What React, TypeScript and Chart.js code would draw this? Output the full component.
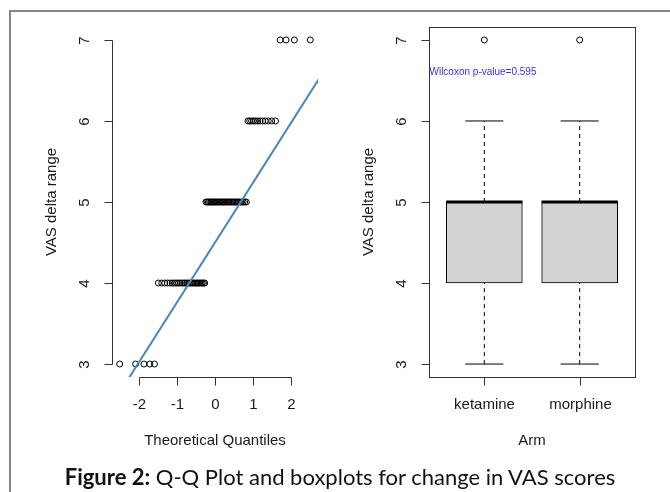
import React, { useEffect, useRef } from 'react';
import { Chart, registerables } from 'chart.js';

Chart.register(...registerables);

// ---------- data ----------
const vasLevels = [3, 4, 5, 6, 7];
const vasCounts = [5, 27, 32, 12, 4];
const qqXTicks = [-2, -1, 0, 1, 2];
const yTicks = [3, 4, 5, 6, 7];
const arms = ['ketamine', 'morphine'];
const armPos = [1, 2];
const whiskerLo = [3, 3];
const boxQ1 = [4, 4];
const boxMedian = [5, 5];
const boxQ3 = [5, 5];
const whiskerHi = [6, 6];
const armOutliers = [[7], [7]];
const wilcoxonP = '0.595';

// ---------- helpers (Q-Q transform, as qqnorm/qqline do) ----------
function qnorm(p: number): number {
  const a = [-3.969683028665376e1, 2.209460984245205e2, -2.759285104469687e2, 1.38357751867269e2, -3.066479806614716e1, 2.506628277459239];
  const b = [-5.447609879822406e1, 1.615858368580409e2, -1.556989798598866e2, 6.680131188771972e1, -1.328068155288572e1];
  const c = [-7.784894002430293e-3, -3.223964580411365e-1, -2.400758277161838, -2.549732539343734, 4.374664141464968, 2.938163982698783];
  const d = [7.784695709041462e-3, 3.224671290700398e-1, 2.445134137142996, 3.754408661907416];
  const pl = 0.02425;
  if (p < pl) {
    const q = Math.sqrt(-2 * Math.log(p));
    return (((((c[0] * q + c[1]) * q + c[2]) * q + c[3]) * q + c[4]) * q + c[5]) / ((((d[0] * q + d[1]) * q + d[2]) * q + d[3]) * q + 1);
  }
  if (p > 1 - pl) {
    const q = Math.sqrt(-2 * Math.log(1 - p));
    return -(((((c[0] * q + c[1]) * q + c[2]) * q + c[3]) * q + c[4]) * q + c[5]) / ((((d[0] * q + d[1]) * q + d[2]) * q + d[3]) * q + 1);
  }
  const q = p - 0.5;
  const r = q * q;
  return ((((((a[0] * r + a[1]) * r + a[2]) * r + a[3]) * r + a[4]) * r + a[5]) * q) / (((((b[0] * r + b[1]) * r + b[2]) * r + b[3]) * r + b[4]) * r + 1);
}

const sample: number[] = [];
vasLevels.forEach((v, i) => {
  for (let k = 0; k < vasCounts[i]; k++) sample.push(v);
});
const n = sample.length;
const qqPoints = sample.map((v, i) => ({ x: qnorm((i + 1 - 0.5) / n), y: v }));

function quantile7(arr: number[], p: number) {
  const h = (arr.length - 1) * p;
  const lo = Math.floor(h);
  const hi = Math.ceil(h);
  return arr[lo] + (h - lo) * (arr[hi] - arr[lo]);
}
const yq1 = quantile7(sample, 0.25);
const yq3 = quantile7(sample, 0.75);
const xq1 = qnorm(0.25);
const xq3 = qnorm(0.75);
const qqSlope = (yq3 - yq1) / (xq3 - xq1);
const qqInt = yq1 - qqSlope * xq1;
const qqLine = [-4, 4].map((x) => ({ x, y: qqInt + qqSlope * x }));

// ---------- styling ----------
const AXIS = '#333';
const TEXT = '#1a1a1a';
const RFONT = '"Liberation Sans", Arial, sans-serif';

type AxisOpts = {
  frame: boolean;
  xTicks: number[];
  xLabels: string[];
  xTitle: string;
  yTitle: string;
  note?: { text: string; x: number; y: number };
};

function makeRAxes(o: AxisOpts) {
  return {
    id: 'rAxes',
    afterDraw(chart: any) {
      const { ctx, chartArea: ca, scales } = chart;
      const xs = scales.x;
      const ys = scales.y;
      ctx.save();
      ctx.strokeStyle = AXIS;
      ctx.lineWidth = 1;
      ctx.fillStyle = TEXT;
      ctx.font = `15px ${RFONT}`;
      const L = Math.round(ca.left) + 0.5;
      const B = Math.round(ca.bottom) + 0.5;
      if (o.frame) {
        ctx.strokeRect(L, Math.round(ca.top) + 0.5, Math.round(ca.right) - Math.round(ca.left), Math.round(ca.bottom) - Math.round(ca.top));
      }
      // y axis
      ctx.beginPath();
      const yPx = yTicks.map((t) => Math.round(ys.getPixelForValue(t)) + 0.5);
      ctx.moveTo(L, yPx[0]);
      ctx.lineTo(L, yPx[yPx.length - 1]);
      yPx.forEach((py) => {
        ctx.moveTo(L, py);
        ctx.lineTo(L - 8, py);
      });
      // x axis
      const xPx = o.xTicks.map((t) => Math.round(xs.getPixelForValue(t)) + 0.5);
      ctx.moveTo(xPx[0], B);
      ctx.lineTo(xPx[xPx.length - 1], B);
      xPx.forEach((px) => {
        ctx.moveTo(px, B);
        ctx.lineTo(px, B + 8);
      });
      ctx.stroke();
      // y tick labels (rotated)
      ctx.textAlign = 'center';
      ctx.textBaseline = 'middle';
      yTicks.forEach((t, i) => {
        ctx.save();
        ctx.translate(ca.left - 27, yPx[i]);
        ctx.rotate(-Math.PI / 2);
        ctx.fillText(String(t), 0, 0);
        ctx.restore();
      });
      // x tick labels
      o.xTicks.forEach((_t, i) => {
        ctx.fillText(o.xLabels[i], xPx[i], B + 27);
      });
      // titles
      ctx.fillText(o.xTitle, (ca.left + ca.right) / 2, B + 63);
      ctx.save();
      ctx.translate(ca.left - 60, (ca.top + ca.bottom) / 2);
      ctx.rotate(-Math.PI / 2);
      ctx.fillText(o.yTitle, 0, 0);
      ctx.restore();
      if (o.note) {
        ctx.font = `10px ${RFONT}`;
        ctx.fillStyle = 'rgb(50,50,255)';
        ctx.textAlign = 'left';
        ctx.fillText(o.note.text, xs.getPixelForValue(o.note.x), ys.getPixelForValue(o.note.y));
      }
      ctx.restore();
    },
  };
}

const pointStyle = {
  pointRadius: 3,
  pointBorderWidth: 1,
  pointBorderColor: '#000',
  pointBackgroundColor: 'rgba(0,0,0,0)',
  pointHoverRadius: 3,
};

function baseOptions(padding: any, xMin: number, xMax: number) {
  return {
    responsive: false,
    animation: false as const,
    devicePixelRatio: 1,
    events: [],
    layout: { padding },
    scales: {
      x: { type: 'linear' as const, min: xMin, max: xMax, offset: false, display: false },
      y: { type: 'linear' as const, min: 2.84, max: 7.16, offset: false, display: false },
    },
    plugins: { legend: { display: false }, tooltip: { enabled: false } },
  };
}

export default function App() {
  const leftRef = useRef<HTMLCanvasElement>(null);
  const rightRef = useRef<HTMLCanvasElement>(null);

  useEffect(() => {
    const left = new Chart(leftRef.current!, {
      type: 'scatter',
      data: {
        datasets: [
          {
            data: qqLine,
            showLine: true,
            borderColor: '#4a86ba',
            borderWidth: 2,
            pointRadius: 0,
            clip: 0,
            order: 0,
          } as any,
          {
            data: qqPoints,
            ...pointStyle,
            clip: false,
            order: 1,
          } as any,
        ],
      },
      options: baseOptions({ left: 112, right: 352, top: 27, bottom: 115 }, -2.7, 2.7) as any,
      plugins: [
        makeRAxes({
          frame: false,
          xTicks: qqXTicks,
          xLabels: qqXTicks.map(String),
          xTitle: 'Theoretical Quantiles',
          yTitle: 'VAS delta range',
        }),
      ],
    });

    const boxDatasets: any[] = [];
    arms.forEach((_a, i) => {
      const p = armPos[i];
      boxDatasets.push({
        type: 'line',
        data: [
          { x: p - 0.4, y: boxMedian[i] },
          { x: p + 0.4, y: boxMedian[i] },
        ],
        borderColor: '#000',
        borderWidth: 3,
        borderCapStyle: 'butt',
        pointRadius: 0,
        order: 0,
      });
      [
        [whiskerLo[i], boxQ1[i]],
        [boxQ3[i], whiskerHi[i]],
      ].forEach(([a, b]) => {
        boxDatasets.push({
          type: 'line',
          data: [
            { x: p, y: a },
            { x: p, y: b },
          ],
          borderColor: '#000',
          borderWidth: 1,
          borderDash: [4, 4],
          pointRadius: 0,
          order: 2,
        });
      });
      [whiskerLo[i], whiskerHi[i]].forEach((w) => {
        boxDatasets.push({
          type: 'line',
          data: [
            { x: p - 0.2, y: w },
            { x: p + 0.2, y: w },
          ],
          borderColor: '#000',
          borderWidth: 1,
          pointRadius: 0,
          order: 2,
        });
      });
    });
    boxDatasets.push({
      type: 'scatter',
      data: arms.flatMap((_a, i) => armOutliers[i].map((v) => ({ x: armPos[i], y: v }))),
      ...pointStyle,
      clip: false,
      order: 1,
    });
    boxDatasets.push({
      type: 'bar',
      data: arms.map((_a, i) => ({ x: armPos[i], y: [boxQ1[i], boxQ3[i]] })),
      backgroundColor: '#d3d3d3',
      borderColor: '#000',
      borderWidth: 1,
      borderSkipped: false,
      barThickness: 76,
      order: 5,
    });

    const right = new Chart(rightRef.current!, {
      type: 'scatter',
      data: { datasets: boxDatasets },
      options: baseOptions({ left: 429, right: 35, top: 27, bottom: 115 }, 0.42, 2.58) as any,
      plugins: [
        makeRAxes({
          frame: true,
          xTicks: armPos,
          xLabels: arms,
          xTitle: 'Arm',
          yTitle: 'VAS delta range',
          note: { text: `Wilcoxon p-value=${wilcoxonP}`, x: 0.425, y: 6.6 },
        }),
      ],
    });

    return () => {
      left.destroy();
      right.destroy();
    };
  }, []);

  const abs: React.CSSProperties = { position: 'absolute', left: 0, top: 0 };
  return (
    <div style={{ ...abs, width: 670, height: 492, background: '#fff', overflow: 'hidden' }}>
      <div
        style={{
          position: 'absolute',
          left: 9,
          top: 10,
          width: 700,
          height: 500,
          borderTop: '2px solid #7d8796',
          borderLeft: '2px solid #7d8796',
        }}
      />
      <canvas ref={leftRef} width={670} height={492} style={{ ...abs, width: 670, height: 492 }} />
      <canvas ref={rightRef} width={670} height={492} style={{ ...abs, width: 670, height: 492 }} />
      <div
        style={{
          position: 'absolute',
          left: 5,
          top: 464,
          width: 670,
          textAlign: 'center',
          fontFamily: 'Lato, "Open Sans", sans-serif',
          fontSize: 22,
          lineHeight: '26px',
          color: '#111',
        }}
      >
        <b>Figure 2:</b> Q-Q Plot and boxplots for change in VAS scores
      </div>
    </div>
  );
}
